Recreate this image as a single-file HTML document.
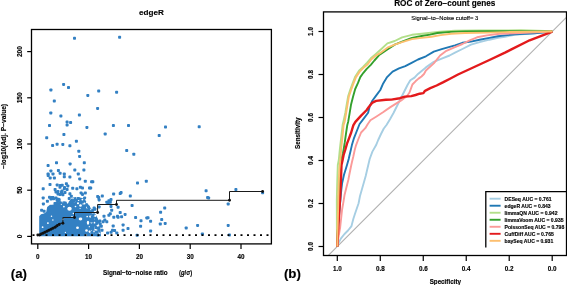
<!DOCTYPE html><html><head><meta charset="utf-8"><style>html,body{margin:0;padding:0;background:#fff;}svg{display:block;will-change:transform;}</style></head><body>
<svg width="567" height="285" viewBox="0 0 567 285" font-family='"Liberation Sans", sans-serif'>
<style>text{stroke:#000;stroke-width:0.14px;}</style>
<rect width="567" height="285" fill="#fff"/>
<text x="151.4" y="15.3" font-size="8.1" font-weight="bold" text-anchor="middle">edgeR</text>
<polygon fill="#3380c3" points="39.2,236.2 39.2,216.2 41,214.2 44,213.5 46.2,212 47.2,207 50,204.8 53.2,203.8 56,201.8 58,200.5 60,201.2 63,201.5 66,201.8 68.5,202 71,199 73,197.5 76,197 80,197.5 84,198.5 86,201 88,204 90,207 92,209.5 94,212 96,215 98,219 99.5,224 100.5,230 101,236.2"/>
<g fill="#fff"><ellipse cx="69.5" cy="208.7" rx="2.2" ry="2.0"/><ellipse cx="80.5" cy="219" rx="1.8" ry="1.4"/><ellipse cx="77.5" cy="227.8" rx="1.4" ry="1.2"/><ellipse cx="88" cy="222.8" rx="1.2" ry="2.0"/><ellipse cx="86.5" cy="230.5" rx="1.3" ry="1.3"/><ellipse cx="80.5" cy="205.5" rx="1.3" ry="1.3"/><ellipse cx="52" cy="203.8" rx="2.2" ry="1"/><ellipse cx="90" cy="200" rx="3" ry="3"/><ellipse cx="93.5" cy="204" rx="2.5" ry="2.5"/><ellipse cx="96" cy="209" rx="2.2" ry="2.2"/><ellipse cx="98" cy="214" rx="1.8" ry="1.8"/><ellipse cx="73" cy="198.5" rx="0.7" ry="0.7"/><ellipse cx="67.6" cy="202.7" rx="0.63" ry="0.63"/><ellipse cx="93.8" cy="234.3" rx="0.69" ry="0.69"/><ellipse cx="75.5" cy="206.5" rx="0.81" ry="0.81"/><ellipse cx="78.3" cy="198.5" rx="0.7" ry="0.7"/><ellipse cx="93" cy="229" rx="0.73" ry="0.73"/><ellipse cx="72" cy="216.9" rx="0.82" ry="0.82"/><ellipse cx="93.3" cy="233.7" rx="0.88" ry="0.88"/><ellipse cx="97.5" cy="229.6" rx="0.66" ry="0.66"/><ellipse cx="73.4" cy="213.6" rx="0.77" ry="0.77"/><ellipse cx="82.4" cy="199.6" rx="0.94" ry="0.94"/><ellipse cx="51.5" cy="216.2" rx="0.73" ry="0.73"/><ellipse cx="99.6" cy="233.5" rx="0.83" ry="0.83"/><ellipse cx="63.5" cy="202.7" rx="0.7" ry="0.7"/><ellipse cx="95.2" cy="215.9" rx="1.05" ry="1.05"/><ellipse cx="91.6" cy="230.9" rx="0.62" ry="0.62"/><ellipse cx="52.9" cy="220" rx="0.75" ry="0.75"/><ellipse cx="93.8" cy="215" rx="0.72" ry="0.72"/><ellipse cx="98.6" cy="224.2" rx="0.61" ry="0.61"/><ellipse cx="59.6" cy="202.8" rx="0.74" ry="0.74"/><ellipse cx="89.3" cy="226.7" rx="0.62" ry="0.62"/><ellipse cx="91.5" cy="222.6" rx="1.02" ry="1.02"/><ellipse cx="92.7" cy="214" rx="0.99" ry="0.99"/><ellipse cx="61.9" cy="201.7" rx="0.73" ry="0.73"/><ellipse cx="67.6" cy="202.5" rx="0.88" ry="0.88"/><ellipse cx="87.2" cy="216.5" rx="0.85" ry="0.85"/><ellipse cx="98.3" cy="232.6" rx="0.99" ry="0.99"/><ellipse cx="80.1" cy="208.5" rx="0.62" ry="0.62"/><ellipse cx="63.9" cy="206.6" rx="0.92" ry="0.92"/><ellipse cx="42.6" cy="227.2" rx="0.88" ry="0.88"/><ellipse cx="97.6" cy="225.8" rx="1.04" ry="1.04"/><ellipse cx="89.8" cy="231.7" rx="1.03" ry="1.03"/><ellipse cx="95.7" cy="233.8" rx="0.7" ry="0.7"/><ellipse cx="86.3" cy="235.1" rx="0.85" ry="0.85"/><ellipse cx="78.6" cy="200.3" rx="0.79" ry="0.79"/><ellipse cx="96.6" cy="230.2" rx="1.01" ry="1.01"/><ellipse cx="95.2" cy="227.4" rx="1.02" ry="1.02"/><ellipse cx="95.1" cy="227.7" rx="1.05" ry="1.05"/><ellipse cx="84.5" cy="203.5" rx="0.99" ry="0.99"/><ellipse cx="98.8" cy="224.7" rx="0.61" ry="0.61"/><ellipse cx="92.4" cy="215.5" rx="0.78" ry="0.78"/><ellipse cx="94.6" cy="228.3" rx="0.6" ry="0.6"/><ellipse cx="89.6" cy="231.5" rx="1.02" ry="1.02"/><ellipse cx="97.7" cy="232.4" rx="0.9" ry="0.9"/><ellipse cx="95.1" cy="229.5" rx="0.99" ry="0.99"/><ellipse cx="47.9" cy="223.1" rx="0.96" ry="0.96"/><ellipse cx="91.1" cy="209.4" rx="0.85" ry="0.85"/><ellipse cx="94.5" cy="222.7" rx="0.84" ry="0.84"/><ellipse cx="90.6" cy="217.1" rx="0.82" ry="0.82"/><ellipse cx="74.4" cy="201.5" rx="0.99" ry="0.99"/><ellipse cx="83.1" cy="203.9" rx="0.64" ry="0.64"/><ellipse cx="92.6" cy="215.7" rx="1.06" ry="1.06"/><ellipse cx="92.9" cy="224.7" rx="0.66" ry="0.66"/><ellipse cx="93.8" cy="231.4" rx="0.92" ry="0.92"/><ellipse cx="62.8" cy="219.4" rx="0.78" ry="0.78"/><ellipse cx="86.9" cy="202.3" rx="1.04" ry="1.04"/><ellipse cx="98.5" cy="225.5" rx="0.77" ry="0.77"/><ellipse cx="65.4" cy="232.4" rx="0.62" ry="0.62"/><ellipse cx="90.2" cy="216.5" rx="1.05" ry="1.05"/><ellipse cx="94.1" cy="212.8" rx="0.74" ry="0.74"/><ellipse cx="95" cy="219.3" rx="0.82" ry="0.82"/><ellipse cx="78" cy="203.3" rx="1.06" ry="1.06"/><ellipse cx="87.1" cy="207.5" rx="1.03" ry="1.03"/><ellipse cx="76.7" cy="197.9" rx="0.66" ry="0.66"/><ellipse cx="61.3" cy="204.3" rx="0.74" ry="0.74"/><ellipse cx="91.4" cy="233.1" rx="0.99" ry="0.99"/></g>
<g fill="#3380c3"><rect x="73" y="36.8" width="3" height="3" rx="0.8"/><rect x="118.1" y="35.7" width="3" height="3" rx="0.8"/><rect x="62.1" y="82.9" width="3" height="3" rx="0.8"/><rect x="67" y="86" width="3" height="3" rx="0.8"/><rect x="49.4" y="88.5" width="3" height="3" rx="0.8"/><rect x="86.3" y="93.9" width="3" height="3" rx="0.8"/><rect x="52.8" y="99.6" width="3" height="3" rx="0.8"/><rect x="49.3" y="111.5" width="3" height="3" rx="0.8"/><rect x="59.4" y="114.6" width="3" height="3" rx="0.8"/><rect x="77.9" y="113.6" width="3" height="3" rx="0.8"/><rect x="65.6" y="120.6" width="3" height="3" rx="0.8"/><rect x="69.1" y="121.1" width="3" height="3" rx="0.8"/><rect x="48" y="124.1" width="3" height="3" rx="0.8"/><rect x="65.6" y="123.6" width="3" height="3" rx="0.8"/><rect x="85.4" y="125.9" width="3" height="3" rx="0.8"/><rect x="97.2" y="89.6" width="3" height="3" rx="0.8"/><rect x="115.1" y="90.8" width="3" height="3" rx="0.8"/><rect x="96.1" y="106.9" width="3" height="3" rx="0.8"/><rect x="111.9" y="124.1" width="3" height="3" rx="0.8"/><rect x="127" y="124.1" width="3" height="3" rx="0.8"/><rect x="164" y="125.6" width="3" height="3" rx="0.8"/><rect x="157.7" y="134" width="3" height="3" rx="0.8"/><rect x="197.7" y="125.2" width="3" height="3" rx="0.8"/><rect x="45.2" y="136.2" width="3" height="3" rx="0.8"/><rect x="62.4" y="133" width="3" height="3" rx="0.8"/><rect x="51.1" y="144.1" width="3" height="3" rx="0.8"/><rect x="55.6" y="142.7" width="3" height="3" rx="0.8"/><rect x="61.3" y="142.9" width="3" height="3" rx="0.8"/><rect x="68.4" y="144.2" width="3" height="3" rx="0.8"/><rect x="103.7" y="132.5" width="3" height="3" rx="0.8"/><rect x="74.9" y="139.7" width="3" height="3" rx="0.8"/><rect x="77.3" y="149.7" width="3" height="3" rx="0.8"/><rect x="78.1" y="154.9" width="3" height="3" rx="0.8"/><rect x="125.2" y="149.1" width="3" height="3" rx="0.8"/><rect x="132.3" y="152.8" width="3" height="3" rx="0.8"/><rect x="144.8" y="179.8" width="3" height="3" rx="0.8"/><rect x="204.6" y="189.3" width="3" height="3" rx="0.8"/><rect x="207.1" y="196.5" width="3" height="3" rx="0.8"/><rect x="163.2" y="206.6" width="3" height="3" rx="0.8"/><rect x="234.4" y="188.1" width="3" height="3" rx="0.8"/><rect x="226.7" y="202.5" width="3" height="3" rx="0.8"/><rect x="261.1" y="191.2" width="3" height="3" rx="0.8"/><rect x="91.3" y="180.2" width="3" height="3" rx="0.8"/><rect x="89.2" y="186.6" width="3" height="3" rx="0.8"/><rect x="136" y="181.6" width="3" height="3" rx="0.8"/><rect x="96.2" y="195" width="3" height="3" rx="0.8"/><rect x="100.8" y="194.6" width="3" height="3" rx="0.8"/><rect x="97.6" y="198.4" width="3" height="3" rx="0.8"/><rect x="112.1" y="192.5" width="3" height="3" rx="0.8"/><rect x="118.7" y="192.1" width="3" height="3" rx="0.8"/><rect x="119.6" y="191.1" width="3" height="3" rx="0.8"/><rect x="128.8" y="194.6" width="3" height="3" rx="0.8"/><rect x="105.3" y="200.7" width="3" height="3" rx="0.8"/><rect x="107.4" y="199.3" width="3" height="3" rx="0.8"/><rect x="109.5" y="198.1" width="3" height="3" rx="0.8"/><rect x="106.7" y="201.6" width="3" height="3" rx="0.8"/><rect x="108.8" y="200.7" width="3" height="3" rx="0.8"/><rect x="130.6" y="204" width="3" height="3" rx="0.8"/><rect x="116.6" y="205.8" width="3" height="3" rx="0.8"/><rect x="109.5" y="204.9" width="3" height="3" rx="0.8"/><rect x="91.3" y="208.7" width="3" height="3" rx="0.8"/><rect x="92.7" y="206.5" width="3" height="3" rx="0.8"/><rect x="97.6" y="205.4" width="3" height="3" rx="0.8"/><rect x="110.2" y="208.7" width="3" height="3" rx="0.8"/><rect x="108.8" y="212.2" width="3" height="3" rx="0.8"/><rect x="107.4" y="213.8" width="3" height="3" rx="0.8"/><rect x="118.7" y="211" width="3" height="3" rx="0.8"/><rect x="123.6" y="212.9" width="3" height="3" rx="0.8"/><rect x="102.5" y="214.7" width="3" height="3" rx="0.8"/><rect x="112.3" y="215.7" width="3" height="3" rx="0.8"/><rect x="116.6" y="215.7" width="3" height="3" rx="0.8"/><rect x="120.1" y="215.2" width="3" height="3" rx="0.8"/><rect x="90.6" y="216.1" width="3" height="3" rx="0.8"/><rect x="134.1" y="216.1" width="3" height="3" rx="0.8"/><rect x="145.3" y="216.4" width="3" height="3" rx="0.8"/><rect x="55" y="161.3" width="3" height="3" rx="0.8"/><rect x="68.6" y="162.4" width="3" height="3" rx="0.8"/><rect x="82.8" y="161.3" width="3" height="3" rx="0.8"/><rect x="46.6" y="164.1" width="3" height="3" rx="0.8"/><rect x="49.4" y="169.4" width="3" height="3" rx="0.8"/><rect x="56.9" y="169" width="3" height="3" rx="0.8"/><rect x="73.3" y="168.6" width="3" height="3" rx="0.8"/><rect x="82.4" y="168.6" width="3" height="3" rx="0.8"/><rect x="46.6" y="172.5" width="3" height="3" rx="0.8"/><rect x="51.5" y="172.5" width="3" height="3" rx="0.8"/><rect x="58.6" y="171.8" width="3" height="3" rx="0.8"/><rect x="62.8" y="172.5" width="3" height="3" rx="0.8"/><rect x="76.8" y="172.5" width="3" height="3" rx="0.8"/><rect x="62.8" y="175.3" width="3" height="3" rx="0.8"/><rect x="68.4" y="175.6" width="3" height="3" rx="0.8"/><rect x="48.7" y="176.5" width="3" height="3" rx="0.8"/><rect x="52.9" y="176.5" width="3" height="3" rx="0.8"/><rect x="78.2" y="177.4" width="3" height="3" rx="0.8"/><rect x="83.8" y="179.8" width="3" height="3" rx="0.8"/><rect x="90.1" y="180.2" width="3" height="3" rx="0.8"/><rect x="48.5" y="183" width="3" height="3" rx="0.8"/><rect x="55.7" y="183.5" width="3" height="3" rx="0.8"/><rect x="60.7" y="183.7" width="3" height="3" rx="0.8"/><rect x="64.9" y="182.3" width="3" height="3" rx="0.8"/><rect x="66.3" y="184.5" width="3" height="3" rx="0.8"/><rect x="41.7" y="187.3" width="3" height="3" rx="0.8"/><rect x="53.6" y="188" width="3" height="3" rx="0.8"/><rect x="58.5" y="185.8" width="3" height="3" rx="0.8"/><rect x="62.8" y="187.3" width="3" height="3" rx="0.8"/><rect x="65.6" y="188" width="3" height="3" rx="0.8"/><rect x="71.2" y="186.8" width="3" height="3" rx="0.8"/><rect x="75.4" y="187.3" width="3" height="3" rx="0.8"/><rect x="78.9" y="185.8" width="3" height="3" rx="0.8"/><rect x="81" y="186.5" width="3" height="3" rx="0.8"/><rect x="88" y="186.5" width="3" height="3" rx="0.8"/><rect x="56.5" y="190.1" width="3" height="3" rx="0.8"/><rect x="60" y="190.8" width="3" height="3" rx="0.8"/><rect x="68.4" y="192.2" width="3" height="3" rx="0.8"/><rect x="79.6" y="191.5" width="3" height="3" rx="0.8"/><rect x="83.8" y="191.5" width="3" height="3" rx="0.8"/><rect x="58.5" y="192.9" width="3" height="3" rx="0.8"/><rect x="61.4" y="193.3" width="3" height="3" rx="0.8"/><rect x="69.8" y="194.7" width="3" height="3" rx="0.8"/><rect x="81" y="192.9" width="3" height="3" rx="0.8"/><rect x="41.7" y="196.4" width="3" height="3" rx="0.8"/><rect x="48" y="195.7" width="3" height="3" rx="0.8"/><rect x="51.5" y="196.1" width="3" height="3" rx="0.8"/><rect x="67.7" y="197.1" width="3" height="3" rx="0.8"/><rect x="76.8" y="197.1" width="3" height="3" rx="0.8"/><rect x="83.1" y="196.4" width="3" height="3" rx="0.8"/><rect x="41.9" y="202.4" width="3" height="3" rx="0.8"/><rect x="45.9" y="199.7" width="3" height="3" rx="0.8"/><rect x="50.5" y="196" width="3" height="3" rx="0.8"/><rect x="49.5" y="197.5" width="3" height="3" rx="0.8"/><rect x="52" y="197.3" width="3" height="3" rx="0.8"/><rect x="56.8" y="197.7" width="3" height="3" rx="0.8"/><rect x="40.1" y="208.7" width="3" height="3" rx="0.8"/><rect x="54.5" y="190.5" width="3" height="3" rx="0.8"/><rect x="56.5" y="192.5" width="3" height="3" rx="0.8"/><rect x="60.5" y="189.5" width="3" height="3" rx="0.8"/><rect x="63.5" y="191" width="3" height="3" rx="0.8"/><rect x="116" y="214.7" width="3" height="3" rx="0.8"/><rect x="139.5" y="219.2" width="3" height="3" rx="0.8"/><rect x="103.3" y="218.6" width="3" height="3" rx="0.8"/><rect x="98.4" y="219.6" width="3" height="3" rx="0.8"/><rect x="111.7" y="224.5" width="3" height="3" rx="0.8"/><rect x="121.6" y="223.4" width="3" height="3" rx="0.8"/><rect x="139.1" y="224.8" width="3" height="3" rx="0.8"/><rect x="126.5" y="227.1" width="3" height="3" rx="0.8"/><rect x="121.6" y="228.7" width="3" height="3" rx="0.8"/><rect x="99.8" y="224.8" width="3" height="3" rx="0.8"/><rect x="100.5" y="228.7" width="3" height="3" rx="0.8"/><rect x="111" y="228.7" width="3" height="3" rx="0.8"/><rect x="113.1" y="229" width="3" height="3" rx="0.8"/><rect x="106.1" y="231.5" width="3" height="3" rx="0.8"/><rect x="109.6" y="230.8" width="3" height="3" rx="0.8"/><rect x="115.3" y="231.5" width="3" height="3" rx="0.8"/><rect x="135.6" y="233.7" width="3" height="3" rx="0.8"/><rect x="159.1" y="210.7" width="3" height="3" rx="0.8"/><rect x="146.5" y="216.3" width="3" height="3" rx="0.8"/><rect x="149.1" y="219.8" width="3" height="3" rx="0.8"/><rect x="160.2" y="218.1" width="3" height="3" rx="0.8"/><rect x="158.8" y="222.5" width="3" height="3" rx="0.8"/><rect x="163.7" y="221.9" width="3" height="3" rx="0.8"/><rect x="149.1" y="229.5" width="3" height="3" rx="0.8"/><rect x="184.7" y="226.5" width="3" height="3" rx="0.8"/><rect x="196.1" y="223.9" width="3" height="3" rx="0.8"/><rect x="200.9" y="232.5" width="3" height="3" rx="0.8"/><rect x="206.1" y="196.1" width="3" height="3" rx="0.8"/><rect x="226.7" y="223.9" width="3" height="3" rx="0.8"/><rect x="227.9" y="233.5" width="3" height="3" rx="0.8"/><rect x="93.5" y="207.7" width="3" height="3" rx="0.8"/><rect x="91.3" y="213.6" width="3" height="3" rx="0.8"/><rect x="94.3" y="218" width="3" height="3" rx="0.8"/><rect x="97.2" y="220.2" width="3" height="3" rx="0.8"/><rect x="98.7" y="222.5" width="3" height="3" rx="0.8"/><rect x="91.3" y="223.9" width="3" height="3" rx="0.8"/><rect x="94.3" y="226.1" width="3" height="3" rx="0.8"/><rect x="91.3" y="227.6" width="3" height="3" rx="0.8"/><rect x="97.2" y="227.6" width="3" height="3" rx="0.8"/><rect x="95.7" y="230.5" width="3" height="3" rx="0.8"/><rect x="90.5" y="231" width="3" height="3" rx="0.8"/><rect x="93" y="233" width="3" height="3" rx="0.8"/><rect x="96.5" y="233.5" width="3" height="3" rx="0.8"/><rect x="90" y="219.5" width="3" height="3" rx="0.8"/><rect x="97.2" y="196" width="3" height="3" rx="0.8"/><rect x="101.6" y="220.2" width="3" height="3" rx="0.8"/><rect x="105.3" y="220.2" width="3" height="3" rx="0.8"/><rect x="86.9" y="205.5" width="3" height="3" rx="0.8"/><rect x="42.6" y="209.8" width="3" height="3" rx="0.8"/><rect x="54.5" y="196.5" width="3" height="3" rx="0.8"/><rect x="46.7" y="174" width="3" height="3" rx="0.8"/><rect x="58.8" y="184" width="3" height="3" rx="0.8"/><rect x="63" y="186.1" width="3" height="3" rx="0.8"/><rect x="60.9" y="192.4" width="3" height="3" rx="0.8"/><rect x="55.6" y="198.8" width="3" height="3" rx="0.8"/><rect x="57.7" y="198.2" width="3" height="3" rx="0.8"/><rect x="53.5" y="201.9" width="3" height="3" rx="0.8"/><rect x="58.8" y="201.4" width="3" height="3" rx="0.8"/><rect x="63" y="201.4" width="3" height="3" rx="0.8"/><rect x="72.5" y="199.8" width="3" height="3" rx="0.8"/><rect x="68.2" y="203" width="3" height="3" rx="0.8"/></g>
<line x1="32.5" y1="235.1" x2="271.4" y2="235.1" stroke="#000" stroke-width="1.8" stroke-dasharray="2 4.5"/>
<polyline fill="none" stroke="#1a1a1a" stroke-width="1" points="37.4,235 39.5,235 39.5,234 41.3,234 41.3,233.2 43.1,233.2 43.1,232.2 45,232.2 45,231.3 47.1,231.3 47.1,230.2 49,230.2 49,229.3 51.1,229.3 51.1,228.2 53,228.2 53,227.2 55.2,227.2 55.2,225.8 57.2,225.8 57.2,224.5 59.2,224.5 59.2,223.3 62.9,223.3 62.9,217.5 74.5,217.5 74.5,212.5 97.6,212.5 97.6,204.5 116.5,204.5 116.5,200.3 229.5,200.3 229.5,191.5 262.6,191.5"/>
<g fill="#111"><circle cx="37.8" cy="235" r="1.45"/><circle cx="39.5" cy="235" r="1.45"/><circle cx="41.3" cy="234" r="1.45"/><circle cx="43.1" cy="233.2" r="1.45"/><circle cx="45" cy="232.2" r="1.45"/><circle cx="47.1" cy="231.3" r="1.45"/><circle cx="49" cy="230.2" r="1.45"/><circle cx="51.1" cy="229.3" r="1.45"/><circle cx="53" cy="228.2" r="1.45"/><circle cx="55.2" cy="227.2" r="1.45"/><circle cx="57.2" cy="225.8" r="1.45"/><circle cx="59.2" cy="224.5" r="1.45"/><circle cx="62.9" cy="223.3" r="1.45"/><circle cx="74.5" cy="217.5" r="1.45"/><circle cx="97.6" cy="212.5" r="1.45"/><circle cx="116.5" cy="204.5" r="1.45"/><circle cx="229.5" cy="200.3" r="1.45"/><circle cx="262.6" cy="191.5" r="1.45"/></g>
<rect x="31.5" y="29.5" width="239.9" height="214.4" fill="none" stroke="#000" stroke-width="1.3"/>
<line x1="27.2" y1="236.4" x2="31.5" y2="236.4" stroke="#000" stroke-width="1.2"/>
<text transform="translate(21.6,236.4) rotate(-90)" font-size="6.6" font-weight="bold" text-anchor="middle">0</text>
<line x1="27.2" y1="190.2" x2="31.5" y2="190.2" stroke="#000" stroke-width="1.2"/>
<text transform="translate(21.6,190.2) rotate(-90)" font-size="6.6" font-weight="bold" text-anchor="middle">50</text>
<line x1="27.2" y1="144" x2="31.5" y2="144" stroke="#000" stroke-width="1.2"/>
<text transform="translate(21.6,144) rotate(-90)" font-size="6.6" font-weight="bold" text-anchor="middle">100</text>
<line x1="27.2" y1="97.8" x2="31.5" y2="97.8" stroke="#000" stroke-width="1.2"/>
<text transform="translate(21.6,97.8) rotate(-90)" font-size="6.6" font-weight="bold" text-anchor="middle">150</text>
<line x1="27.2" y1="51.6" x2="31.5" y2="51.6" stroke="#000" stroke-width="1.2"/>
<text transform="translate(21.6,51.6) rotate(-90)" font-size="6.6" font-weight="bold" text-anchor="middle">200</text>
<line x1="37.8" y1="243.9" x2="37.8" y2="248.9" stroke="#000" stroke-width="1.2"/>
<text x="37.8" y="259.2" font-size="6.3" font-weight="bold" text-anchor="middle">0</text>
<line x1="88.6" y1="243.9" x2="88.6" y2="248.9" stroke="#000" stroke-width="1.2"/>
<text x="88.6" y="259.2" font-size="6.3" font-weight="bold" text-anchor="middle">10</text>
<line x1="139.4" y1="243.9" x2="139.4" y2="248.9" stroke="#000" stroke-width="1.2"/>
<text x="139.4" y="259.2" font-size="6.3" font-weight="bold" text-anchor="middle">20</text>
<line x1="190.2" y1="243.9" x2="190.2" y2="248.9" stroke="#000" stroke-width="1.2"/>
<text x="190.2" y="259.2" font-size="6.3" font-weight="bold" text-anchor="middle">30</text>
<line x1="241" y1="243.9" x2="241" y2="248.9" stroke="#000" stroke-width="1.2"/>
<text x="241" y="259.2" font-size="6.3" font-weight="bold" text-anchor="middle">40</text>
<text x="102.9" y="275" font-size="6.39" font-weight="bold">Signal−to−noise ratio</text>
<text transform="translate(179,275.2) scale(0.8,1)" font-size="7.4" font-weight="bold">(<tspan font-style="italic">g</tspan>/σ)</text>
<text transform="translate(6.2,136.4) rotate(-90)" font-size="6.6" font-weight="bold" text-anchor="middle">−log10(Adj. P−value)</text>
<text x="10.8" y="277.8" font-size="13.3" font-weight="bold">(a)</text>
<text x="394.2" y="5.8" font-size="8.2" font-weight="bold">ROC of Zero−count genes</text>
<text x="444.8" y="20" font-size="5.85" text-anchor="middle">Signal−to−Noise cutoff= 3</text>
<clipPath id="cb"><rect x="323.5" y="11.9" width="243" height="243.6"/></clipPath>
<g clip-path="url(#cb)">
<line x1="317.3" y1="266.5" x2="582.2" y2="1.6" stroke="#b0b0b0" stroke-width="1.1"/>
<polyline fill="none" stroke="#A6CEE3" stroke-width="1.9" stroke-linejoin="round" points="337.3,246.6 337.6,244.5 341,238.4 344.5,234 348,230.5 351.5,226.1 353.3,219 355,213.8 356.8,208.5 358.6,203.3 360,196 362,189 364,182 365.7,176 367.1,170 369.7,159 372.4,151.6 376,145.3 378.2,140 381,134 383.8,128.5 386.5,125 390,119.3 393.5,113 397,106 400.5,99 404,92 407.5,85 410.3,80.3 414.5,77.6 418,73.9 425.9,67.4 433.8,61.9 441.7,58.7 449.6,55.5 455,52.6 462.4,49 471,44.7 479.6,42.2 489.4,39.7 498,37.9 505,36.7 514.8,34.8 534,33.4 552.4,31.6"/>
<polyline fill="none" stroke="#1F78B4" stroke-width="1.9" stroke-linejoin="round" points="337.3,246.6 337.5,241.9 338.4,224.3 339.5,210 340.5,199 341.3,190 342.1,183.4 344,174.8 347,165 348.7,159 349.6,155 350.8,150 351.9,145.1 354,138.1 356.8,131 359.6,124 363.9,118.4 368.1,112.8 369.8,106 372.5,100.5 376.1,95.6 380.3,90 383.2,83.4 387.1,77.1 392.6,71.6 399,68.4 405.3,66.1 411.6,62.9 418,59.5 425.9,56.3 433.8,51.6 441.7,49.2 449.6,46.8 455,45.3 462.4,42.8 471,41.6 479.6,39.7 489.4,37.9 498,36.3 505,35.4 514.8,34.3 534.6,33.4 552.4,31.6"/>
<polyline fill="none" stroke="#B2DF8A" stroke-width="1.9" stroke-linejoin="round" points="337.3,246.6 336.9,230 336.8,200 337.3,180 337.8,165 338.8,160 339.8,149.5 341.2,137.3 342.6,125 343.9,119.5 345.4,112.5 346.8,104 348.2,96 350.4,89.4 352.9,82.5 355.3,76.4 359,70.8 362.8,67.2 366.9,62.8 370.8,58.3 375.3,54.4 380,50.2 387.4,43.4 394.7,41 402.1,37.3 411.9,34.8 421.7,33.8 440,31.7 455,30.8 480,30.4 520.7,30.3 552.4,31.2"/>
<polyline fill="none" stroke="#33A02C" stroke-width="1.9" stroke-linejoin="round" points="337.3,246.6 338.1,225 338.7,200 339.5,180 340.5,165 342,157 343,153.2 343.8,148.3 344.8,142.2 346,133.6 347.3,125 348.2,121.7 349.6,113.3 351,104.8 353.1,96.4 355.2,89 357.9,83.2 360.3,77.1 363.4,72.8 366.5,69.1 370.8,64.8 374.4,60.5 378.7,55.6 380,54.4 387.4,49.5 394.7,44.6 402.1,41.6 411.9,37.9 421.7,36 430,34.6 437.4,33 451.2,31.9 465,31.4 489,31.3 520,31.2 552.4,31.4"/>
<polyline fill="none" stroke="#FB9A99" stroke-width="1.9" stroke-linejoin="round" points="337.3,246.6 338,240 340.1,227.8 341.5,215 342.1,209.5 343.4,202.1 344.6,194.7 346.4,187.4 348.3,180 349.3,174.8 351.3,165 352.2,161 353.2,157 354.7,150 356.1,145.1 358.2,139.5 361.1,132.5 365.3,128.2 367.5,124.5 370.4,120.2 376.1,116.7 383,112.3 390,107.4 395.6,103.9 401.2,100.4 406.8,96.2 409.5,92.5 411.3,87.6 412.4,84.5 415.5,81.3 418.5,78.6 421.5,76.5 424,74 425.9,70.5 433.8,63.4 440.1,55.5 446.4,50.8 455,47.1 462.4,44 469.7,40.4 477.1,37.3 487,35.4 495.5,34.2 500,33.8 514.8,33.4 536.5,32.4 552.4,31.6"/>
<polyline fill="none" stroke="#E31A1C" stroke-width="2.4" stroke-linejoin="round" points="337.3,246.6 337.5,241.9 338.4,224.3 339.5,208 340.1,198 340.9,181 341.5,165 342.6,160 343.6,155 345.2,150 347,143.7 349.1,138.1 351.2,132.5 353.3,125.4 355.4,121.9 361.1,115.6 366.7,110 369,106.8 372.5,102.6 376.1,100.9 385.9,99.8 391.4,99.6 399.8,98.2 405,96.6 411.3,96.1 415.5,95 419.7,93.7 423.4,93.1 425,90.8 430.3,88.2 436.6,85.5 442.9,82.4 450,78.7 458,74.5 489.4,60 505,52.6 510.9,49.6 529.6,40.3 552.4,31.6"/>
<polyline fill="none" stroke="#FDBF6F" stroke-width="1.9" stroke-linejoin="round" points="337.3,246.6 337.6,230 338.3,200 338.7,185 339.3,170 340.3,160 341.1,149.5 342.4,137.3 343.6,125 344.7,121.7 346.1,113.3 347.5,104.8 348.9,96.4 351.1,90 353.6,83.2 356,77.1 359.7,71.6 363.4,67.9 367.7,64.2 371.4,59.3 375.7,55.6 380,53.2 387.4,47.7 394.7,44.6 402.1,42.2 411.9,39.1 421.7,37.9 431.5,36.8 440.6,35.1 451.2,33.7 465,33 489,32.6 505,32.1 530,31.8 552.4,31.5"/>
</g>
<rect x="323.5" y="11.9" width="243" height="243.6" fill="none" stroke="#000" stroke-width="1.3"/>
<line x1="318.5" y1="246.5" x2="323.5" y2="246.5" stroke="#000" stroke-width="1.2"/>
<text transform="translate(313.4,246.5) rotate(-90)" font-size="6.3" font-weight="bold" text-anchor="middle">0.0</text>
<line x1="552.2" y1="255.5" x2="552.2" y2="261" stroke="#000" stroke-width="1.2"/>
<text x="552.2" y="270.8" font-size="6.3" font-weight="bold" text-anchor="middle">0.0</text>
<line x1="318.5" y1="203.5" x2="323.5" y2="203.5" stroke="#000" stroke-width="1.2"/>
<text transform="translate(313.4,203.5) rotate(-90)" font-size="6.3" font-weight="bold" text-anchor="middle">0.2</text>
<line x1="509.22" y1="255.5" x2="509.22" y2="261" stroke="#000" stroke-width="1.2"/>
<text x="509.22" y="270.8" font-size="6.3" font-weight="bold" text-anchor="middle">0.2</text>
<line x1="318.5" y1="160.5" x2="323.5" y2="160.5" stroke="#000" stroke-width="1.2"/>
<text transform="translate(313.4,160.5) rotate(-90)" font-size="6.3" font-weight="bold" text-anchor="middle">0.4</text>
<line x1="466.24" y1="255.5" x2="466.24" y2="261" stroke="#000" stroke-width="1.2"/>
<text x="466.24" y="270.8" font-size="6.3" font-weight="bold" text-anchor="middle">0.4</text>
<line x1="318.5" y1="117.5" x2="323.5" y2="117.5" stroke="#000" stroke-width="1.2"/>
<text transform="translate(313.4,117.5) rotate(-90)" font-size="6.3" font-weight="bold" text-anchor="middle">0.6</text>
<line x1="423.26" y1="255.5" x2="423.26" y2="261" stroke="#000" stroke-width="1.2"/>
<text x="423.26" y="270.8" font-size="6.3" font-weight="bold" text-anchor="middle">0.6</text>
<line x1="318.5" y1="74.5" x2="323.5" y2="74.5" stroke="#000" stroke-width="1.2"/>
<text transform="translate(313.4,74.5) rotate(-90)" font-size="6.3" font-weight="bold" text-anchor="middle">0.8</text>
<line x1="380.28" y1="255.5" x2="380.28" y2="261" stroke="#000" stroke-width="1.2"/>
<text x="380.28" y="270.8" font-size="6.3" font-weight="bold" text-anchor="middle">0.8</text>
<line x1="318.5" y1="31.5" x2="323.5" y2="31.5" stroke="#000" stroke-width="1.2"/>
<text transform="translate(313.4,31.5) rotate(-90)" font-size="6.3" font-weight="bold" text-anchor="middle">1.0</text>
<line x1="337.3" y1="255.5" x2="337.3" y2="261" stroke="#000" stroke-width="1.2"/>
<text x="337.3" y="270.8" font-size="6.3" font-weight="bold" text-anchor="middle">1.0</text>
<text x="445.3" y="283.5" font-size="6.28" font-weight="bold" text-anchor="middle">Specificity</text>
<text transform="translate(300.4,133.2) rotate(-90)" font-size="6.34" font-weight="bold" text-anchor="middle">Sensitivity</text>
<text x="283.9" y="277.8" font-size="13.3" font-weight="bold">(b)</text>
<path d="M485.8,247.6 V191.7 H566.5" fill="none" stroke="#000" stroke-width="1.3"/>
<line x1="489.6" y1="198.7" x2="500.6" y2="198.7" stroke="#A6CEE3" stroke-width="1.9"/>
<text x="504.6" y="200.6" font-size="5.07" font-weight="bold">DESeq AUC = 0.761</text>
<line x1="489.6" y1="205.72" x2="500.6" y2="205.72" stroke="#1F78B4" stroke-width="1.9"/>
<text x="504.6" y="207.62" font-size="5.07" font-weight="bold">edgeR AUC = 0.843</text>
<line x1="489.6" y1="212.74" x2="500.6" y2="212.74" stroke="#B2DF8A" stroke-width="1.9"/>
<text x="504.6" y="214.64" font-size="5.07" font-weight="bold">limmaQN AUC = 0.942</text>
<line x1="489.6" y1="219.76" x2="500.6" y2="219.76" stroke="#33A02C" stroke-width="1.9"/>
<text x="504.6" y="221.66" font-size="5.07" font-weight="bold">limmaVoom AUC = 0.935</text>
<line x1="489.6" y1="226.78" x2="500.6" y2="226.78" stroke="#FB9A99" stroke-width="1.9"/>
<text x="504.6" y="228.68" font-size="5.07" font-weight="bold">PoissonSeq AUC = 0.798</text>
<line x1="489.6" y1="233.8" x2="500.6" y2="233.8" stroke="#E31A1C" stroke-width="1.9"/>
<text x="504.6" y="235.7" font-size="5.07" font-weight="bold">CuffDiff AUC = 0.765</text>
<line x1="489.6" y1="240.82" x2="500.6" y2="240.82" stroke="#FDBF6F" stroke-width="1.9"/>
<text x="504.6" y="242.72" font-size="5.07" font-weight="bold">baySeq AUC = 0.931</text>
</svg></body></html>
